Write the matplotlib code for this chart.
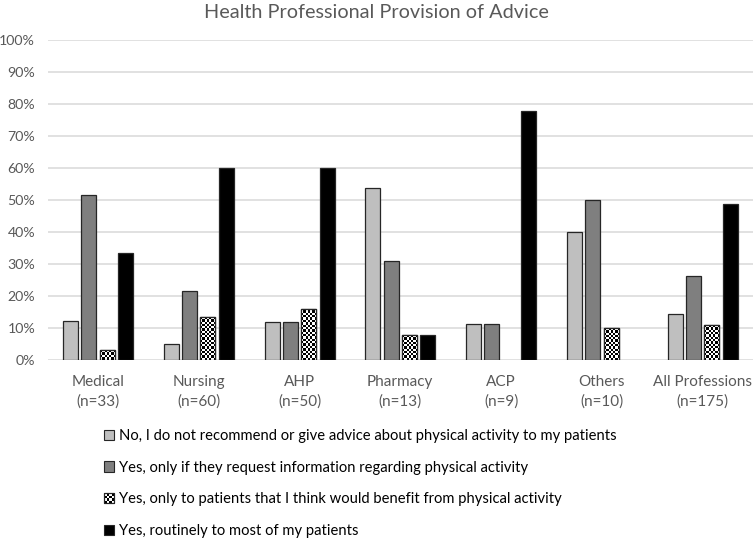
import matplotlib
matplotlib.use("Agg")
import matplotlib.pyplot as plt
import numpy as np
from matplotlib.patches import Rectangle
from matplotlib.legend_handler import HandlerPatch

plt.rcParams['font.family'] = ['Lato', 'DejaVu Sans']

categories = ["Medical\n(n=33)", "Nursing\n(n=60)", "AHP\n(n=50)", "Pharmacy\n(n=13)",
              "ACP\n(n=9)", "Others\n(n=10)", "All Professions\n(n=175)"]
series_labels = [
    "No, I do not recommend or give advice about physical activity to my patients",
    "Yes, only if they request information regarding physical activity",
    "Yes, only to patients that I think would benefit from physical activity",
    "Yes, routinely to most of my patients",
]
no_advice = [12.1, 5.0, 12.0, 53.8, 11.1, 40.0, 14.3]
on_request = [51.5, 21.7, 12.0, 30.8, 11.1, 50.0, 26.3]
benefit = [3.0, 13.3, 16.0, 7.7, 0.0, 10.0, 10.9]
routinely = [33.3, 60.0, 60.0, 7.7, 77.8, 0.0, 48.6]
series = [no_advice, on_request, benefit, routinely]
colors = ["#BFBFBF", "#7F7F7F", "white", "#000000"]
edge = "#262626"
yticks = list(range(0, 101, 10))
ytick_labels = [f"{v}%" for v in yticks]

W, H, DPI = 753, 538, 100
fig = plt.figure(figsize=(W / DPI, H / DPI), dpi=DPI)
ax = fig.add_axes([47.6 / W, 1 - 360 / H, 1 - 47.6 / W, 320 / H])

x = np.arange(len(categories))
step = 0.182
bw = 0.149
bars = []
for i, (vals, c) in enumerate(zip(series, colors)):
    lws = [0.9 if v > 0 else 0 for v in vals]
    b = ax.bar(x + (i - 1.5) * step, vals, width=bw, color=c, edgecolor=edge,
               linewidth=lws, zorder=3, label=series_labels[i])
    bars.append(b)

ax.set_xlim(-0.5, len(categories) - 0.5)
ax.set_ylim(0, 100)

# checkerboard fill for third series
fig.canvas.draw()
px_per_x = ax.bbox.width / (len(categories))
px_per_y = ax.bbox.height / 100.0
cell = 2.3
for rect in bars[2]:
    h = rect.get_height()
    if h <= 0:
        continue
    x0 = rect.get_x()
    w = rect.get_width()
    nx = max(1, int(round(w * px_per_x / cell)))
    ny = max(1, int(round(h * px_per_y / cell)))
    chk = (np.add.outer(np.arange(ny), np.arange(nx)) % 2).astype(float)
    im = ax.imshow(chk, cmap="gray", extent=(x0, x0 + w, 0, h), aspect="auto",
                   interpolation="nearest", zorder=3.5, vmin=0, vmax=1)
    im.set_clip_path(rect)
    ax.add_patch(Rectangle((x0, 0), w, h, fill=False, edgecolor=edge,
                           linewidth=0.9, zorder=4))

ax.set_xlim(-0.5, len(categories) - 0.5)
ax.set_ylim(0, 100)

ax.set_yticks(yticks)
ax.set_yticklabels(ytick_labels)
ax.set_xticks(x)
ax.set_xticklabels(categories, linespacing=1.45)
ax.tick_params(axis='both', length=0, colors="#595959")
ax.tick_params(axis='x', pad=11, labelsize=11)
ax.tick_params(axis='y', pad=9, labelsize=10.2)
ax.grid(axis='y', color="#D9D9D9", linewidth=1.1, zorder=0)
ax.set_axisbelow(True)
for s in ax.spines.values():
    s.set_visible(False)

fig.text(0.5, 1 - 12 / H, "Health Professional Provision of Advice", ha="center",
         va="center", fontsize=14.3, color="#595959")


class CheckerHandler(HandlerPatch):
    def create_artists(self, legend, orig_handle, xdescent, ydescent, width,
                       height, fontsize, trans):
        arts = []
        s = min(width, height)
        x0 = -xdescent
        y0 = -ydescent + (height - s) / 2
        n = 4
        c = s / n
        bg = Rectangle((x0, y0), s, s, facecolor="white", edgecolor=edge,
                       linewidth=0.8, transform=trans)
        arts.append(bg)
        for i in range(n):
            for j in range(n):
                if (i + j) % 2 == 0:
                    arts.append(Rectangle((x0 + i * c, y0 + j * c), c, c,
                                          facecolor="black", edgecolor="none",
                                          transform=trans))
        arts.append(Rectangle((x0, y0), s, s, fill=False, edgecolor=edge,
                              linewidth=0.8, transform=trans))
        return arts


class SquareHandler(HandlerPatch):
    def create_artists(self, legend, orig_handle, xdescent, ydescent, width,
                       height, fontsize, trans):
        s = min(width, height)
        y0 = -ydescent + (height - s) / 2
        r = Rectangle((-xdescent, y0), s, s, facecolor=orig_handle.get_facecolor(),
                      edgecolor=edge, linewidth=0.8, transform=trans)
        return [r]


handles = [b.patches[0] for b in bars]
leg = fig.legend(handles, series_labels, loc="upper left",
                 bbox_to_anchor=(104 / W, 1 - 429 / H), frameon=False,
                 fontsize=10.6, labelspacing=1.2, handlelength=0.72,
                 handleheight=0.72, handletextpad=0.3, borderaxespad=0,
                 borderpad=0,
                 handler_map={handles[0]: SquareHandler(), handles[1]: SquareHandler(),
                              handles[2]: CheckerHandler(), handles[3]: SquareHandler()})
for t in leg.get_texts():
    t.set_color("#000000")

fig.savefig("out.png", dpi=DPI)
